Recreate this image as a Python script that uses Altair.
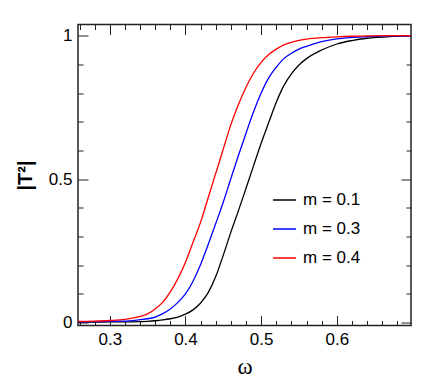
import altair as alt
import pandas as pd

# ---- data ----
omega = [0.258, 0.28, 0.30, 0.32, 0.34, 0.35, 0.36, 0.37, 0.38, 0.39, 0.40, 0.41,
         0.42, 0.43, 0.44, 0.45, 0.46, 0.47, 0.48, 0.49, 0.50, 0.51, 0.52, 0.53,
         0.54, 0.55, 0.56, 0.58, 0.60, 0.62, 0.64, 0.67, 0.698]
t_m01 = [0.001, 0.001, 0.002, 0.002, 0.003, 0.004, 0.006, 0.009, 0.013, 0.019, 0.029, 0.044,
         0.068, 0.104, 0.160, 0.235, 0.315, 0.390, 0.468, 0.547, 0.625, 0.697, 0.768, 0.826,
         0.867, 0.898, 0.920, 0.950, 0.971, 0.983, 0.991, 0.997, 0.999]
t_m03 = [0.002, 0.003, 0.004, 0.005, 0.010, 0.013, 0.019, 0.031, 0.047, 0.070, 0.100, 0.144,
         0.202, 0.272, 0.345, 0.420, 0.502, 0.582, 0.660, 0.735, 0.800, 0.853, 0.890, 0.920,
         0.939, 0.953, 0.963, 0.979, 0.989, 0.994, 0.997, 0.999, 1.0]
t_m04 = [0.004, 0.005, 0.007, 0.011, 0.021, 0.030, 0.047, 0.071, 0.107, 0.153, 0.210, 0.280,
         0.350, 0.435, 0.520, 0.605, 0.690, 0.760, 0.820, 0.870, 0.907, 0.934, 0.953, 0.968,
         0.977, 0.984, 0.988, 0.993, 0.996, 0.998, 0.999, 1.0, 1.0]
series_names = ["m = 0.1", "m = 0.3", "m = 0.4"]
series_colors = ["#000000", "#0000ff", "#ff0000"]

x_major = [0.3, 0.4, 0.5, 0.6]
x_ticks = [0.26, 0.28, 0.30, 0.32, 0.34, 0.36, 0.38, 0.40, 0.42, 0.44, 0.46, 0.48,
           0.50, 0.52, 0.54, 0.56, 0.58, 0.60, 0.62, 0.64, 0.66, 0.68]
y_major = [0, 0.5, 1]
y_ticks = [0, 0.1, 0.2, 0.3, 0.4, 0.5, 0.6, 0.7, 0.8, 0.9, 1.0]

rows = []
for name, vals in zip(series_names, [t_m01, t_m03, t_m04]):
    for w, t in zip(omega, vals):
        rows.append({"omega": w, "T": t, "series": name})
df = pd.DataFrame(rows)

W, H = 333, 301
XDOM = [0.258, 0.698]
YDOM = [-0.0105, 1.039]
FONT = "Liberation Sans"


def xs():
    return alt.Scale(domain=XDOM, nice=False, zero=False)


def ys():
    return alt.Scale(domain=YDOM, nice=False, zero=False)


x_cond = {"condition": {"test": "abs(datum.value*10 - round(datum.value*10)) < 1e-6", "value": 10}, "value": 5}
y_cond = {"condition": {"test": "abs(datum.value*2 - round(datum.value*2)) < 1e-6", "value": 10}, "value": 5}

lines = alt.Chart(df).mark_line(strokeWidth=1.3, interpolate="monotone").encode(
    x=alt.X("omega:Q", scale=xs(),
            axis=alt.Axis(orient="bottom", values=x_major, format=".1f", ticks=False,
                          domain=False, grid=False, labelFont=FONT, labelFontSize=17,
                          labelPadding=6, labelColor="#000",
                          title="ω", titleFont="Liberation Serif", titleFontSize=23,
                          titleFontWeight="normal", titleX=166.5, titleY=48,
                          titleBaseline="alphabetic", titleColor="#000")),
    y=alt.Y("T:Q", scale=ys(),
            axis=alt.Axis(orient="left", values=y_major, format="~g", ticks=False,
                          domain=False, grid=False, labelFont=FONT, labelFontSize=17,
                          labelPadding=6, labelColor="#000",
                          title="|T²|", titleFont=FONT, titleFontSize=20,
                          titleFontWeight="bold", titleAngle=270, titleX=-53, titleY=150.5,
                          titleAlign="center", titleBaseline="middle", titleColor="#000")),
    color=alt.Color("series:N",
                    scale=alt.Scale(domain=series_names, range=series_colors),
                    legend=alt.Legend(orient="none", legendX=194, legendY=163, title=None,
                                      symbolType="stroke", symbolSize=529,
                                      symbolStrokeWidth=1.5, labelFont=FONT,
                                      labelFontSize=17, labelOffset=6, rowPadding=8,
                                      padding=0, labelColor="#000")),
)


def tick_layer(xorient, yorient):
    return alt.Chart(df).mark_point(opacity=0).encode(
        x=alt.X("omega:Q", scale=xs(),
                axis=alt.Axis(orient=xorient, offset=-H, values=x_ticks, labels=False,
                              domain=False, grid=False, title=None, tickSize=x_cond,
                              tickColor="#222", tickWidth=1)),
        y=alt.Y("T:Q", scale=ys(),
                axis=alt.Axis(orient=yorient, offset=-W, values=y_ticks, labels=False,
                              domain=False, grid=False, title=None, tickSize=y_cond,
                              tickColor="#222", tickWidth=1)),
    )


chart = alt.layer(
    lines,
    tick_layer("top", "right"),
    tick_layer("bottom", "left"),
).resolve_scale(x="independent", y="independent").resolve_axis(
    x="independent", y="independent"
).properties(
    width=W, height=H,
    autosize=alt.AutoSizeParams(type="none"),
    padding={"left": 70, "top": 16.5, "right": 7, "bottom": 55},
    background="white",
).configure_view(stroke="#222", strokeWidth=1.5)

chart.save("out.html", embed_options={"renderer": "svg", "actions": False})
